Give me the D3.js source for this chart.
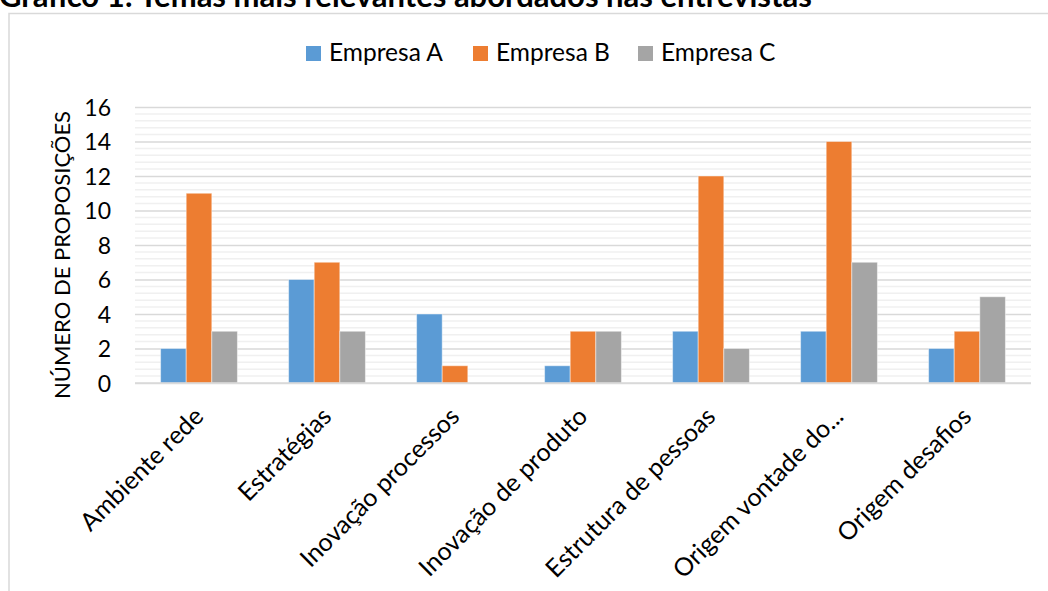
<!DOCTYPE html>
<html>
<head>
<meta charset="utf-8">
<script src="https://cdn.jsdelivr.net/npm/d3@7/dist/d3.min.js"></script>
<style>
  html, body { margin: 0; padding: 0; background: #fff; }
  svg { display: block; }
  text { font-family: Lato, "Open Sans", sans-serif; fill: #000; }
</style>
</head>
<body>
<svg id="chart" width="1048" height="591"></svg>
<script>
// Temas abordados nas entrevistas, por empresa
const categories = [
  "Ambiente rede",
  "Estratégias",
  "Inovação processos",
  "Inovação de produto",
  "Estrutura de pessoas",
  "Origem vontade do...",
  "Origem desafios"
];
const seriesNames = ["Empresa A", "Empresa B", "Empresa C"];
const empresaA = [2, 6, 4, 1, 3, 3, 2];
const empresaB = [11, 7, 1, 3, 12, 14, 3];
const empresaC = [3, 3, 0, 3, 2, 7, 5];
const yTicks = [0, 2, 4, 6, 8, 10, 12, 14, 16];
const colors = ["#5B9BD5", "#ED7D31", "#A5A5A5"];

const seriesValues = [empresaA, empresaB, empresaC];
const svg = d3.select("#chart");

const plot = { left: 135, right: 1031, top: 107, bottom: 383 };

// Título (parcialmente cortado na borda superior)
svg.append("text")
  .attr("x", -1)
  .attr("y", 7)
  .attr("font-size", 31)
  .attr("font-weight", "bold")
  .text("Gráfico 1: Temas mais relevantes abordados nas entrevistas");

// Moldura da área do gráfico
svg.append("rect")
  .attr("x", 9).attr("y", 13.5)
  .attr("width", 1100).attr("height", 700)
  .attr("fill", "#fff")
  .attr("stroke", "#d9d9d9")
  .attr("stroke-width", 1.5);

const x0 = d3.scaleBand().domain(categories).range([plot.left, plot.right]).paddingInner(0).paddingOuter(0);
const x1 = d3.scaleBand().domain(seriesNames).range([0, x0.bandwidth()]).paddingInner(0).paddingOuter(1);
const y = d3.scaleLinear().domain([0, 16]).range([plot.bottom, plot.top]);

// Linhas de grade secundárias (a cada 0,4)
const minor = d3.range(0, 16.001, 0.4).filter(v => Math.abs(v / 2 - Math.round(v / 2)) > 1e-6);
svg.append("g").selectAll("line").data(minor).join("line")
  .attr("x1", plot.left).attr("x2", plot.right)
  .attr("y1", d => y(d)).attr("y2", d => y(d))
  .attr("stroke", "#f0f0f0").attr("stroke-width", 1.5);

// Linhas de grade principais
const yAxis = d3.axisLeft(y).tickValues(yTicks).tickSize(-(plot.right - plot.left)).tickPadding(24).tickFormat(d3.format("d"));
const gy = svg.append("g").attr("transform", `translate(${plot.left},0)`).call(yAxis);
gy.select(".domain").remove();
gy.selectAll(".tick line").attr("stroke", "#d9d9d9").attr("stroke-width", 1.5);
gy.selectAll(".tick text").attr("font-size", 23).attr("font-family", "Lato, sans-serif").attr("fill", "#000").attr("dy", "0.36em");

// Barras
const groups = svg.append("g").selectAll("g").data(categories).join("g")
  .attr("transform", d => `translate(${x0(d)},0)`);
groups.selectAll("rect")
  .data((c, i) => seriesNames.map((s, k) => ({ s, k, v: seriesValues[k][i] })))
  .join("rect")
  .filter(d => d.v > 0)
  .attr("x", d => x1(d.s))
  .attr("width", x1.bandwidth())
  .attr("y", d => y(d.v))
  .attr("height", d => y(0) - y(d.v))
  .attr("fill", d => colors[d.k])
  .attr("stroke", "rgba(255,255,255,0.45)")
  .attr("stroke-width", 1);

// Eixo das categorias
svg.append("line")
  .attr("x1", plot.left).attr("x2", plot.right)
  .attr("y1", y(0)).attr("y2", y(0))
  .attr("stroke", "#d9d9d9").attr("stroke-width", 1.5);

const xAxis = d3.axisBottom(x0).tickSize(0).tickPadding(0);
const gx = svg.append("g").attr("transform", `translate(0,${plot.bottom})`).call(xAxis);
gx.select(".domain").remove();
gx.selectAll(".tick text")
  .attr("font-size", 25)
  .attr("font-family", "Lato, sans-serif")
  .attr("fill", "#000")
  .attr("text-anchor", "end")
  .attr("dy", 0)
  .attr("y", 0)
  .attr("transform", "translate(6,35) rotate(-45)");

// Título do eixo Y
svg.append("text")
  .attr("transform", `translate(70,255) rotate(-90)`)
  .attr("text-anchor", "middle")
  .attr("font-size", 22)
  .text("NÚMERO DE PROPOSIÇÕES");

// Legenda
const legendX = [306, 473, 638];
const legend = svg.append("g").selectAll("g").data(seriesNames).join("g")
  .attr("transform", (d, i) => `translate(${legendX[i]},46)`);
legend.append("rect").attr("width", 15).attr("height", 15).attr("fill", (d, i) => colors[i]);
legend.append("text").attr("x", 23).attr("y", 15).attr("font-size", 24.5).text(d => d);
</script>
</body>
</html>
